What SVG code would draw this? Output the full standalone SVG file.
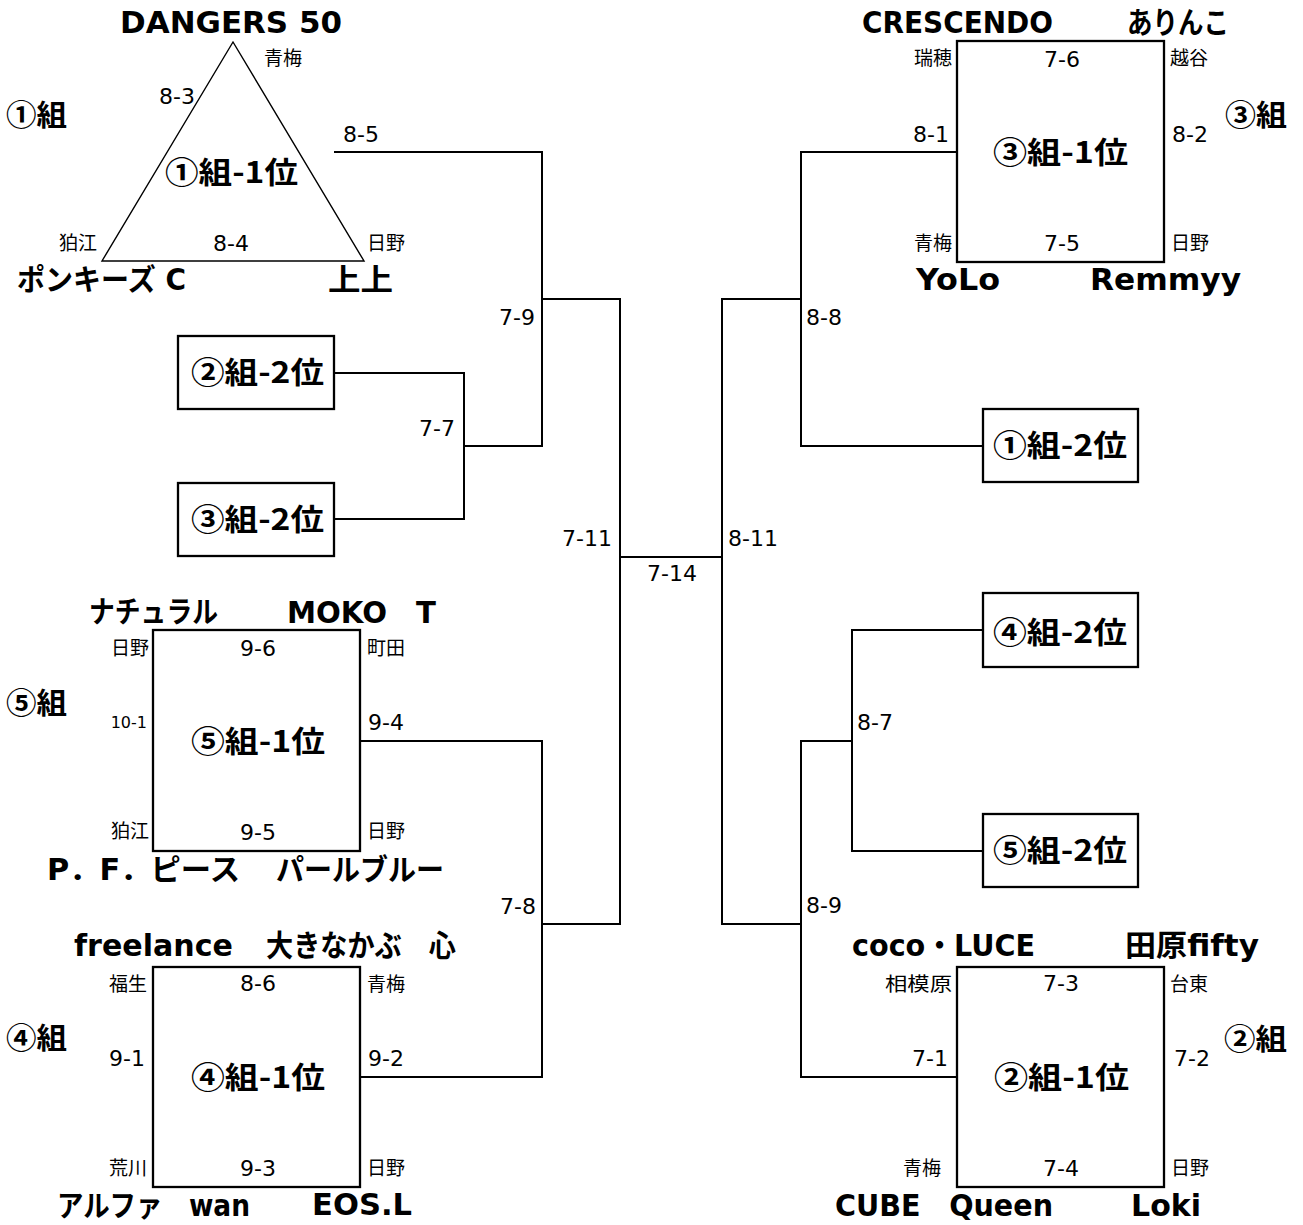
<svg xmlns="http://www.w3.org/2000/svg" width="1303" height="1225" viewBox="0 0 1303 1225">
<style>
.ln{stroke:#000;stroke-width:2;fill:none}
.box{fill:#fff;stroke:#000;stroke-width:2.3}
.tri{fill:none;stroke:#000;stroke-width:1.4}
.sc{font-family:"DejaVu Sans",sans-serif;font-size:22px;fill:#000}
.sm{font-family:"DejaVu Sans",sans-serif;font-size:16px;fill:#000}
.vn{font-family:"Noto Sans CJK JP",sans-serif;font-size:19px;fill:#000}
.nm{font-family:"DejaVu Sans","Noto Sans CJK JP",sans-serif;font-weight:bold;font-size:29.5px;fill:#000}
.gp{font-family:"Noto Sans CJK JP",sans-serif;font-weight:bold;font-size:29px;fill:#000}
.lb{font-family:"Noto Sans CJK JP",sans-serif;font-weight:bold;font-size:30px;fill:#000}
.m{text-anchor:middle}
.e{text-anchor:end}
</style>
<rect width="1303" height="1225" fill="#fff"/>

<g id="connectors">
<path class="ln" d="M334,152 H542 V446 H464"/>
<path class="ln" d="M334,373 H464 V519 H334"/>
<path class="ln" d="M542,299 H620 V924 H542"/>
<path class="ln" d="M360,741 H542 V1077 H360"/>
<path class="ln" d="M620,557 H722"/>
<path class="ln" d="M801,299 H722 V924 H801"/>
<path class="ln" d="M957,152 H801 V446 H983"/>
<path class="ln" d="M957,1077 H801 V741 H852"/>
<path class="ln" d="M983,630 H852 V851 H983"/>
<text class="sc" x="343" y="142">8-5</text>
<text class="sc e" x="455" y="436">7-7</text>
<text class="sc e" x="535" y="325">7-9</text>
<text class="sc e" x="536" y="914">7-8</text>
<text class="sc e" x="612" y="546">7-11</text>
<text class="sc" x="728" y="546">8-11</text>
<text class="sc m" x="672" y="581">7-14</text>
<text class="sc" x="806" y="325">8-8</text>
<text class="sc" x="857" y="730">8-7</text>
<text class="sc" x="806" y="913">8-9</text>
<text class="sc e" x="949" y="142">8-1</text>
<text class="sc" x="368" y="730">9-4</text>
<text class="sc" x="368" y="1066">9-2</text>
<text class="sc e" x="948" y="1066">7-1</text>
</g>

<g id="group1">
<text class="gp" x="6" y="126" textLength="61" lengthAdjust="spacingAndGlyphs">①組</text>
<polygon class="tri" points="233,42 102,261 364,261"/>
<text class="nm" x="120" y="33" textLength="222" lengthAdjust="spacingAndGlyphs">DANGERS 50</text>
<text class="vn" x="264" y="65">青梅</text>
<text class="sc" x="159" y="104">8-3</text>
<text class="lb" x="165" y="183" textLength="133" lengthAdjust="spacingAndGlyphs">①組-1位</text>
<text class="vn e" x="97" y="250">狛江</text>
<text class="sc m" x="231" y="251">8-4</text>
<text class="vn" x="367" y="250">日野</text>
<text class="nm" x="17" y="290" textLength="169" lengthAdjust="spacingAndGlyphs">ポンキーズ C</text>
<text class="nm" x="328" y="290" textLength="65" lengthAdjust="spacingAndGlyphs">上上</text>
</g>

<g id="group3">
<text class="gp" x="1225" y="126" textLength="62" lengthAdjust="spacingAndGlyphs">③組</text>
<rect class="box" x="957" y="41" width="207" height="221"/>
<text class="nm" x="862" y="33" textLength="191" lengthAdjust="spacingAndGlyphs">CRESCENDO</text>
<text class="nm" x="1127" y="33" textLength="102" lengthAdjust="spacingAndGlyphs">ありんこ</text>
<text class="vn e" x="952" y="65">瑞穂</text>
<text class="sc m" x="1062" y="67">7-6</text>
<text class="vn" x="1170" y="65">越谷</text>
<text class="sc" x="1172" y="142">8-2</text>
<text class="lb" x="993" y="163" textLength="135" lengthAdjust="spacingAndGlyphs">③組-1位</text>
<text class="vn e" x="952" y="250">青梅</text>
<text class="sc m" x="1062" y="251">7-5</text>
<text class="vn" x="1171" y="250">日野</text>
<text class="nm" x="916" y="290" textLength="84" lengthAdjust="spacingAndGlyphs">YoLo</text>
<text class="nm" x="1090" y="290" textLength="151" lengthAdjust="spacingAndGlyphs">Remmyy</text>
</g>

<g id="g2-2">
<rect class="box" x="178" y="336" width="156" height="73"/>
<text class="lb" x="191" y="383" textLength="133" lengthAdjust="spacingAndGlyphs">②組-2位</text>
</g>
<g id="g3-2">
<rect class="box" x="178" y="483" width="156" height="73"/>
<text class="lb" x="191" y="530" textLength="133" lengthAdjust="spacingAndGlyphs">③組-2位</text>
</g>
<g id="g1-2">
<rect class="box" x="983" y="409" width="155" height="73"/>
<text class="lb" x="993" y="456" textLength="134" lengthAdjust="spacingAndGlyphs">①組-2位</text>
</g>
<g id="g4-2">
<rect class="box" x="983" y="593" width="155" height="74"/>
<text class="lb" x="993" y="643" textLength="134" lengthAdjust="spacingAndGlyphs">④組-2位</text>
</g>
<g id="g5-2">
<rect class="box" x="983" y="814" width="155" height="73"/>
<text class="lb" x="993" y="861" textLength="134" lengthAdjust="spacingAndGlyphs">⑤組-2位</text>
</g>

<g id="group5">
<text class="gp" x="6" y="714" textLength="61" lengthAdjust="spacingAndGlyphs">⑤組</text>
<rect class="box" x="153" y="630" width="207" height="221"/>
<text class="nm" x="89" y="622" textLength="129" lengthAdjust="spacingAndGlyphs">ナチュラル</text>
<text class="nm" x="287" y="623" textLength="149" lengthAdjust="spacingAndGlyphs">MOKO　T</text>
<text class="vn e" x="149" y="655">日野</text>
<text class="sc m" x="258" y="656">9-6</text>
<text class="vn" x="367" y="655">町田</text>
<text class="sm e" x="147" y="728">10-1</text>
<text class="lb" x="191" y="752" textLength="134" lengthAdjust="spacingAndGlyphs">⑤組-1位</text>
<text class="vn e" x="149" y="838">狛江</text>
<text class="sc m" x="258" y="840">9-5</text>
<text class="vn" x="367" y="838">日野</text>
<text class="nm" x="47" y="880" textLength="193" lengthAdjust="spacingAndGlyphs">P．F．ピース</text>
<text class="nm" x="276" y="880" textLength="168" lengthAdjust="spacingAndGlyphs">パールブルー</text>
</g>

<g id="group4">
<text class="gp" x="6" y="1049" textLength="61" lengthAdjust="spacingAndGlyphs">④組</text>
<rect class="box" x="153" y="967" width="207" height="220"/>
<text class="nm" x="74" y="956" textLength="159" lengthAdjust="spacingAndGlyphs">freelance</text>
<text class="nm" x="266" y="956" textLength="190" lengthAdjust="spacingAndGlyphs">大きなかぶ　心</text>
<text class="vn e" x="147" y="991">福生</text>
<text class="sc m" x="258" y="991">8-6</text>
<text class="vn" x="367" y="991">青梅</text>
<text class="sc e" x="145" y="1066">9-1</text>
<text class="lb" x="191" y="1088" textLength="134" lengthAdjust="spacingAndGlyphs">④組-1位</text>
<text class="vn e" x="147" y="1175">荒川</text>
<text class="sc m" x="258" y="1176">9-3</text>
<text class="vn" x="367" y="1175">日野</text>
<text class="nm" x="57" y="1216" textLength="193" lengthAdjust="spacingAndGlyphs">アルファ　wan</text>
<text class="nm" x="312" y="1215" textLength="100" lengthAdjust="spacingAndGlyphs">EOS.L</text>
</g>

<g id="group2">
<text class="gp" x="1224" y="1050" textLength="63" lengthAdjust="spacingAndGlyphs">②組</text>
<rect class="box" x="957" y="967" width="207" height="220"/>
<text class="nm" x="852" y="956" textLength="183" lengthAdjust="spacingAndGlyphs">coco・LUCE</text>
<text class="nm" x="1125" y="956" textLength="134" lengthAdjust="spacingAndGlyphs">田原fifty</text>
<text class="vn e" x="952" y="991" textLength="67" lengthAdjust="spacingAndGlyphs">相模原</text>
<text class="sc m" x="1061" y="991">7-3</text>
<text class="vn" x="1170" y="991">台東</text>
<text class="sc" x="1174" y="1066">7-2</text>
<text class="lb" x="994" y="1088" textLength="135" lengthAdjust="spacingAndGlyphs">②組-1位</text>
<text class="vn e" x="941" y="1175">青梅</text>
<text class="sc m" x="1061" y="1176">7-4</text>
<text class="vn" x="1171" y="1175">日野</text>
<text class="nm" x="835" y="1216" textLength="218" lengthAdjust="spacingAndGlyphs">CUBE　Queen</text>
<text class="nm" x="1131" y="1216" textLength="70" lengthAdjust="spacingAndGlyphs">Loki</text>
</g>
</svg>
